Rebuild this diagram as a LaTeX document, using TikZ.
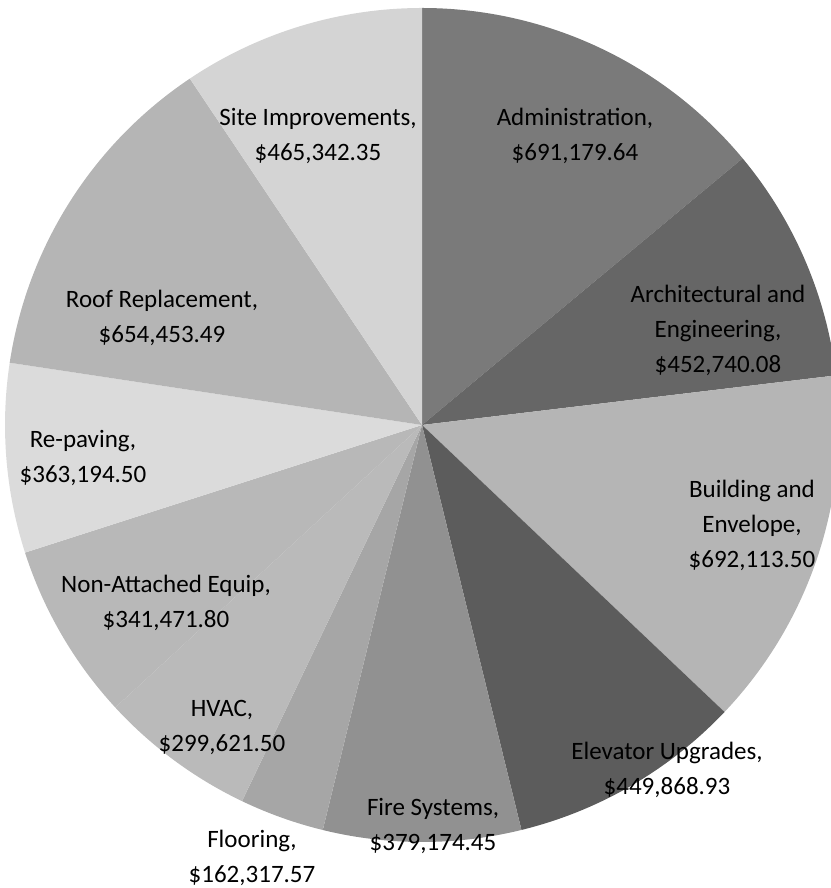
\documentclass[tikz,border=0pt]{standalone}
\usepackage{fontspec}
\setmainfont{Carlito}
\usepackage{tikz}
\usepackage{xcolor}

\definecolor{cAdmin}{gray}{0.48}
\definecolor{cArch}{gray}{0.40}
\definecolor{cBuild}{gray}{0.71}
\definecolor{cElev}{gray}{0.36}
\definecolor{cFire}{gray}{0.57}
\definecolor{cFloor}{gray}{0.65}
\definecolor{cHvac}{gray}{0.73}
\definecolor{cEquip}{gray}{0.72}
\definecolor{cPave}{gray}{0.86}
\definecolor{cRoof}{gray}{0.71}
\definecolor{cSite}{gray}{0.83}

\tikzstyle{lbl} = [align=center, text=black, inner sep=0pt, font=\fontsize{25}{35}\selectfont]
\newcommand{\pieslice}[3]{\fill[#1] (ctr) -- +(#2:417) arc[start angle=#2, end angle=#3, radius=417] -- cycle;}

\begin{document}
\begin{tikzpicture}[x=1pt, y=1pt]
        \useasboundingbox (0,0) rectangle (830,888);
        \coordinate (ctr) at (422,463);

        % slices, clockwise from the top
        \pieslice{cAdmin}{90}{39.75}
        \pieslice{cArch}{39.75}{6.83}
        \pieslice{cBuild}{6.83}{-43.49}
        \pieslice{cElev}{-43.49}{-76.20}
        \pieslice{cFire}{-76.20}{-103.77}
        \pieslice{cFloor}{-103.77}{-115.57}
        \pieslice{cHvac}{-115.57}{-137.35}
        \pieslice{cEquip}{-137.35}{-162.18}
        \pieslice{cPave}{-162.18}{-188.59}
        \pieslice{cRoof}{171.41}{123.83}
        \pieslice{cSite}{123.83}{90}

        % labels
        \node (admin) [lbl] at (575,752) {Administration,\\\$691,179.64};
        \node (arch) [lbl] at (718,558) {Architectural and\\Engineering,\\\$452,740.08};
        \node (build) [lbl] at (752,363) {Building and\\Envelope,\\\$692,113.50};
        \node (elev) [lbl] at (667,118) {Elevator Upgrades,\\\$449,868.93};
        \node (fire) [lbl] at (433,62) {Fire Systems,\\\$379,174.45};
        \node (floor) [lbl] at (252,30) {Flooring,\\\$162,317.57};
        \node (hvac) [lbl] at (222,161) {HVAC,\\\$299,621.50};
        \node (equip) [lbl] at (166,285) {Non-Attached Equip,\\\$341,471.80};
        \node (pave) [lbl] at (83,430) {Re-paving,\\\$363,194.50};
        \node (roof) [lbl] at (162,570) {Roof Replacement,\\\$654,453.49};
        \node (site) [lbl] at (318,752) {Site Improvements,\\\$465,342.35};
    \end{tikzpicture}
\end{document}
